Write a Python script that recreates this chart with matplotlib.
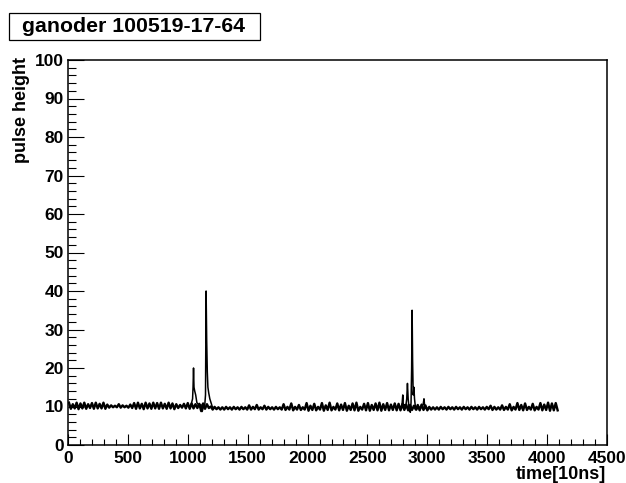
import numpy as np
import matplotlib
matplotlib.use("Agg")
import matplotlib.pyplot as plt
from matplotlib.patches import Rectangle
from matplotlib.ticker import MultipleLocator

plt.rcParams['font.family'] = ['Liberation Sans', 'DejaVu Sans']
plt.rcParams['font.weight'] = 'bold'

title = "ganoder 100519-17-64"
xlabel = "time[10ns]"
ylabel = "pulse height"

# baseline: max / min of the trace in each 32-sample bin
bin_width = 32
trace_hi = [
    11, 10.6, 11, 10.8, 11, 10.6, 10.9, 11,
    10.7, 11, 10.5, 10.3, 10.2, 10.6, 10.3, 10.2,
    10.5, 10.9, 11, 10.7, 11, 10.8, 11, 10.9,
    11, 10.7, 11, 10.8, 10.6, 10.4, 10.7, 10.9,
    10.8, 10.6, 10.7, 10.8, 10.6, 10, 9.9, 9.8,
    9.8, 9.9, 9.8, 9.9, 9.8, 9.9, 9.8, 10.3,
    9.9, 10.4, 9.8, 10.2, 9.9, 9.8, 9.9, 9.8,
    10.6, 9.9, 10.8, 9.9, 10.4, 9.8, 10.9, 10.2,
    10.7, 9.9, 10.9, 10.3, 11, 9.9, 10.8, 10.5,
    10.9, 10.2, 10.8, 11, 9.9, 10.7, 10.9, 10.4,
    10.8, 11, 10.6, 10.9, 10.5, 10.8, 10.7, 10.6,
    10.5, 10.4, 10.2, 10.4, 10.5, 10.3, 9.9, 9.8,
    9.8, 9.9, 9.8, 9.9, 9.8, 9.9, 9.8, 9.9,
    9.8, 9.9, 9.8, 9.9, 9.8, 9.9, 10.2, 9.9,
    9.8, 10.3, 9.9, 10.6, 9.9, 10.9, 10.4, 10.8,
    9.9, 10.7, 9.9, 10.9, 10.5, 11, 10.8, 10.9,
]
trace_lo = [
    9.4, 9.5, 9.3, 9.5, 9.4, 9.6, 9.4, 9.5,
    9.5, 9.4, 9.7, 9.8, 9.8, 9.7, 9.8, 9.7,
    9.6, 9.4, 9.5, 9.3, 9.5, 9.4, 9.5, 9.4,
    9.5, 9.4, 9.5, 9.3, 9.6, 9.7, 9.5, 9.4,
    9.5, 9.6, 8.8, 9.4, 9.6, 9.2, 9.3, 9.2,
    9.2, 9.3, 9.2, 9.3, 9.2, 9.3, 9.2, 9.2,
    9.3, 9.2, 9.3, 9.2, 9.3, 9.2, 9.3, 9.2,
    9.1, 9.2, 9.0, 9.2, 9.1, 9.2, 8.9, 9.1,
    9.0, 9.2, 8.9, 9.1, 9.0, 9.2, 9.0, 9.1,
    8.9, 9.1, 9.0, 8.9, 9.2, 9.0, 8.9, 9.1,
    9.0, 8.9, 9.1, 9.0, 9.1, 9.0, 9.0, 9.1,
    9.0, 9.1, 9.2, 9.0, 9.1, 9.0, 9.2, 9.2,
    9.2, 9.3, 9.2, 9.3, 9.2, 9.3, 9.2, 9.3,
    9.2, 9.3, 9.2, 9.3, 9.2, 9.3, 9.1, 9.2,
    9.2, 9.1, 9.2, 9.0, 9.2, 9.1, 9.0, 9.1,
    9.2, 9.0, 9.2, 9.0, 9.1, 8.9, 9.0, 9.0,
]

# the two pulse groups, read sample by sample
pulse1_t = [1024, 1032, 1040, 1044, 1048, 1052, 1058, 1066, 1076, 1088, 1100, 1110,
            1120, 1132, 1142, 1148, 1153, 1158, 1163, 1168, 1175, 1184, 1194, 1204, 1216]
pulse1_v = [10, 11, 12, 15, 20, 15, 14, 13, 11, 10.5, 10, 10.5,
            8.7, 10, 10.5, 13, 40, 27, 19, 15, 13.5, 12, 11, 10, 9.5]
pulse2_t = [2784, 2790, 2795, 2800, 2810, 2820, 2828, 2834, 2840, 2846, 2852, 2858, 2864,
            2869, 2873, 2877, 2882, 2888, 2893, 2900, 2910, 2925, 2940, 2955, 2965, 2972,
            2978, 2986, 2996]
pulse2_v = [10, 11, 13, 10, 10.5, 10, 12, 16, 12, 10, 9, 8.5, 11,
            20, 35, 22, 13, 15, 12, 10, 9.1, 10, 9.5, 10, 10.5, 12,
            10, 9.5, 9.5]

hi = np.array(trace_hi)
lo = np.array(trace_lo)
start = np.arange(len(hi)) * bin_width
t_zig = np.column_stack([start + bin_width / 4, start + 3 * bin_width / 4]).ravel()
v_zig = np.column_stack([hi, lo]).ravel()

fig = plt.figure(figsize=(6.26, 4.83), dpi=100)
ax = fig.add_axes([68 / 626, 1 - 445 / 483, 539 / 626, 385 / 483])

ax.plot(t_zig, v_zig, color='black', lw=1.7)
ax.plot(pulse1_t, pulse1_v, color='black', lw=1.1)
ax.plot(pulse2_t, pulse2_v, color='black', lw=1.1)

ax.set_xlim(0, 4500)
ax.set_ylim(0, 100)
ax.xaxis.set_major_locator(MultipleLocator(500))
ax.xaxis.set_minor_locator(MultipleLocator(100))
ax.yaxis.set_major_locator(MultipleLocator(10))
ax.yaxis.set_minor_locator(MultipleLocator(2))
ax.tick_params(axis='both', which='both', direction='in', top=False, right=False,
               width=0.8, labelsize=12.5)
ax.tick_params(axis='x', which='major', length=8, pad=4)
ax.tick_params(axis='x', which='minor', length=4)
ax.tick_params(axis='y', which='major', length=11.5, pad=3)
ax.tick_params(axis='y', which='minor', length=5.8)
for lab in ax.get_xticklabels() + ax.get_yticklabels():
    lab.set_fontweight('bold')
for sp in ax.spines.values():
    sp.set_linewidth(1.1)

fig.text(606 / 626, 1 - 466 / 483, xlabel, ha='right', va='top', fontsize=13, fontweight='bold')
fig.text(21.5 / 626, 1 - 57 / 483, ylabel, ha='center', va='top', rotation=90,
         fontsize=13, fontweight='bold')

fig.patches.append(Rectangle((8.5 / 626, 1 - 40 / 483), 251 / 626, 27 / 483,
                             transform=fig.transFigure, fill=False, edgecolor='black', lw=0.9))
fig.text(133 / 626, 1 - 26.5 / 483, title, ha='center', va='center', fontsize=15.3,
         fontweight='bold')

fig.savefig("out.png", dpi=100)
